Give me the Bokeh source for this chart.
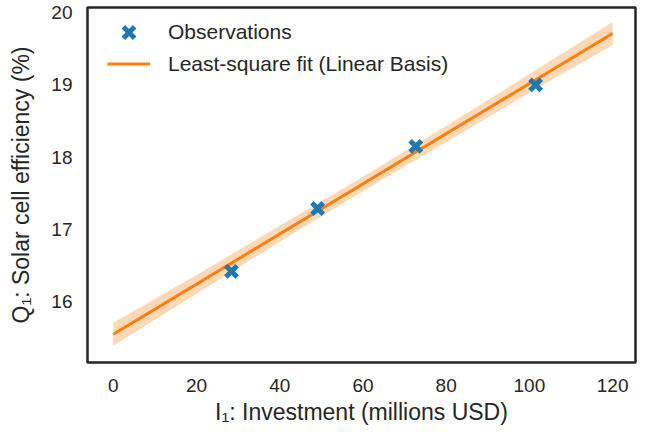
from bokeh.plotting import figure
from bokeh.models import Range1d, Legend, LegendItem, FixedTicker
from bokeh.embed import file_html
from bokeh.resources import INLINE

# Data
obs_x = [28.4, 49.1, 72.7, 101.5]
obs_y = [16.42, 17.29, 18.15, 19.00]

fit_x = [0, 120]
fit_y = [15.55, 19.71]

band_x = [0, 20, 40, 60, 80, 100, 120]
band_lower = [15.39, 16.11, 16.83, 17.53, 18.21, 18.89, 19.55]
band_upper = [15.71, 16.37, 17.05, 17.73, 18.43, 19.15, 19.87]

x_ticks = [0, 20, 40, 60, 80, 100, 120]
y_ticks = [16, 17, 18, 19, 20]

x_label = "I\u2081: Investment (millions USD)"
y_label = "Q\u2081: Solar cell efficiency (%)"
legend_labels = ["Observations", "Least-square fit (Linear Basis)"]

FONT = "Liberation Sans"
TXT = "#262626"
BLUE = "#1f77b4"
ORANGE = "#ff7f0e"

p = figure(width=641, height=427, output_backend="svg", toolbar_location=None,
           x_range=Range1d(-6.2, 125.5), y_range=Range1d(15.16, 20.07),
           min_border_left=87, min_border_right=6, min_border_top=7, min_border_bottom=64)
p.background_fill_color = "white"
p.border_fill_color = "white"
p.outline_line_color = TXT
p.outline_line_width = 2.5
p.grid.visible = False

for ax in (p.xaxis[0], p.yaxis[0]):
    ax.axis_line_color = None
    ax.major_tick_line_color = None
    ax.minor_tick_line_color = None
    ax.major_label_text_font = FONT
    ax.major_label_text_font_size = "19px"
    ax.major_label_text_color = TXT
    ax.axis_label_text_font = FONT
    ax.axis_label_text_font_size = "23px"
    ax.axis_label_text_font_style = "normal"
    ax.axis_label_text_color = TXT
p.xaxis[0].ticker = FixedTicker(ticks=x_ticks)
p.yaxis[0].ticker = FixedTicker(ticks=y_ticks)
p.xaxis[0].major_label_standoff = 10
p.yaxis[0].major_label_standoff = 9
p.xaxis[0].axis_label = x_label
p.yaxis[0].axis_label = y_label
p.xaxis[0].axis_label_standoff = 4
p.yaxis[0].axis_label_standoff = 14

band = p.varea(x=band_x, y1=band_lower, y2=band_upper, fill_color=ORANGE, fill_alpha=0.3)
line = p.line(fit_x, fit_y, line_color=ORANGE, line_width=3)
pts = p.scatter(obs_x, obs_y, marker="x", size=16, line_color=BLUE, line_width=5)

legend_style = dict(padding=0, margin=0, spacing=0, glyph_width=43, label_standoff=18,
                    label_text_font=FONT, label_text_font_size="21px", label_text_color=TXT,
                    border_line_alpha=0, background_fill_alpha=0)
leg_obs = Legend(items=[LegendItem(label=legend_labels[0], renderers=[pts])],
                 location=(20, 310), label_height=40, glyph_height=40, **legend_style)
leg_fit = Legend(items=[LegendItem(label=legend_labels[1], renderers=[line])],
                 location=(20, 283), label_height=31, glyph_height=31, **legend_style)
p.add_layout(leg_obs)
p.add_layout(leg_fit)

open("out.html", "w").write(file_html(p, INLINE))
